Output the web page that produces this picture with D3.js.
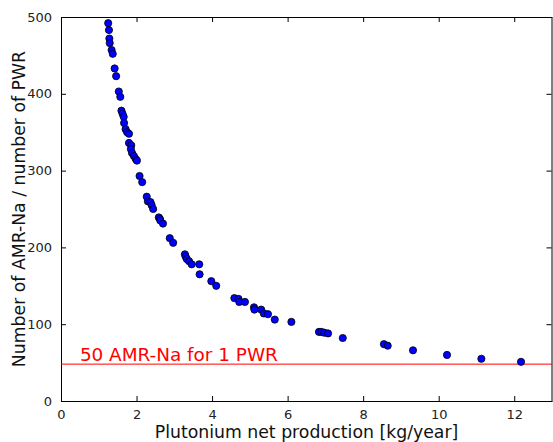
<!DOCTYPE html>
<html>
<head>
<meta charset="utf-8">
<script src="https://cdn.jsdelivr.net/npm/d3@7"></script>
<style>
    body { margin: 0; background: #fff; }
    #chart { width: 553px; height: 442px; }
    text { font-family: "DejaVu Sans", sans-serif; }
</style>
</head>
<body>
<div id="chart"></div>
<script>
// plutonium net production [kg/year]
var puProduction = [
    1.25, 1.27, 1.28, 1.29, 1.34, 1.37, 1.42, 1.46, 1.53, 1.57,
    1.60, 1.63, 1.66, 1.67, 1.71, 1.75, 1.80, 1.80, 1.86, 1.85,
    1.88, 1.93, 1.98, 2.01, 2.08, 2.15, 2.27, 2.30, 2.37, 2.40,
    2.44, 2.59, 2.62, 2.63, 2.70, 2.88, 2.97, 3.28, 3.30, 3.33,
    3.39, 3.46, 3.66, 3.67, 3.98, 4.11, 4.59, 4.70, 4.72, 4.87,
    5.11, 5.12, 5.30, 5.37, 5.48, 5.66, 6.10, 6.83, 6.89, 6.97,
    7.07, 7.46, 8.55, 8.65, 9.32, 10.22, 11.13, 12.18
];
// number of AMR-Na / number of PWR
var amrPerPwr = [
    492, 483, 472, 466, 457, 452, 433, 423, 403, 396,
    378, 374, 370, 362, 354, 350, 348, 336, 333, 328,
    323, 319, 315, 313, 293, 285, 266, 260, 259, 255,
    250, 239, 237, 235, 231, 212, 206, 191, 188, 185,
    182, 178, 178, 165, 156, 150, 134, 133, 129, 129,
    122, 119, 119, 114, 113, 106, 103, 90, 90, 89,
    88, 82, 74, 72, 66, 60, 55, 51
];
var xTicks = [0, 2, 4, 6, 8, 10, 12];
var yTicks = [0, 100, 200, 300, 400, 500];
var limitValue = 48;
var limitLabel = "50 AMR-Na for 1 PWR";

var width = 553;
var height = 442;
var margin = { top: 17, right: 1, bottom: 41, left: 61 };

var svg = d3.select("#chart")
    .append("svg")
    .attr("width", width)
    .attr("height", height);

var x = d3.scaleLinear()
    .domain([0, 13])
    .range([margin.left, width - margin.right]);

var y = d3.scaleLinear()
    .domain([0, 500])
    .range([height - margin.bottom, margin.top]);

// axes, ticks pointing inward like matplotlib classic
var bottomAxis = d3.axisBottom(x).tickValues(xTicks).tickSizeInner(-5).tickSizeOuter(0).tickPadding(9);
var topAxis = d3.axisTop(x).tickValues(xTicks).tickSizeInner(-5).tickSizeOuter(0).tickFormat("");
var leftAxis = d3.axisLeft(y).tickValues(yTicks).tickSizeInner(-5).tickSizeOuter(0).tickPadding(9);
var rightAxis = d3.axisRight(y).tickValues(yTicks).tickSizeInner(-5).tickSizeOuter(0).tickFormat("");

svg.append("g")
    .attr("transform", "translate(0," + y(0) + ")")
    .call(bottomAxis);
svg.append("g")
    .attr("transform", "translate(0," + y(500) + ")")
    .call(topAxis);
svg.append("g")
    .attr("transform", "translate(" + x(0) + ",0)")
    .call(leftAxis);
svg.append("g")
    .attr("transform", "translate(" + (x(13) - 0.5) + ",0)")
    .call(rightAxis);

svg.selectAll(".domain").attr("stroke", "#000").attr("stroke-width", 1);
svg.selectAll(".tick line").attr("stroke", "#000");
svg.selectAll(".tick text")
    .attr("fill", "#222")
    .style("font-family", "DejaVu Sans")
    .style("font-size", "13px");

// red reference line
svg.append("line")
    .attr("x1", x(0))
    .attr("x2", x(13))
    .attr("y1", y(limitValue))
    .attr("y2", y(limitValue))
    .attr("stroke", "#ff0000")
    .attr("stroke-width", 1);

svg.append("text")
    .attr("x", x(0.5))
    .attr("y", y(limitValue) - 3.5)
    .attr("fill", "#ff0000")
    .style("font-size", "18.4px")
    .text(limitLabel);

// points
svg.selectAll("circle")
    .data(puProduction)
    .enter()
    .append("circle")
    .attr("cx", function(d) { return x(d); })
    .attr("cy", function(d, i) { return y(amrPerPwr[i]); })
    .attr("r", 3.6)
    .attr("fill", "#0000ff")
    .attr("stroke", "#000")
    .attr("stroke-width", 0.8);

// axis labels
svg.append("text")
    .attr("x", (x(0) + x(13)) / 2)
    .attr("y", 438)
    .attr("text-anchor", "middle")
    .attr("fill", "#111")
    .style("font-size", "17.3px")
    .text("Plutonium net production [kg/year]");

svg.append("text")
    .attr("transform", "translate(25," + (y(0) + y(500)) / 2 + ") rotate(-90)")
    .attr("text-anchor", "middle")
    .attr("fill", "#111")
    .style("font-size", "17.3px")
    .text("Number of AMR-Na / number of PWR");
</script>
</body>
</html>
